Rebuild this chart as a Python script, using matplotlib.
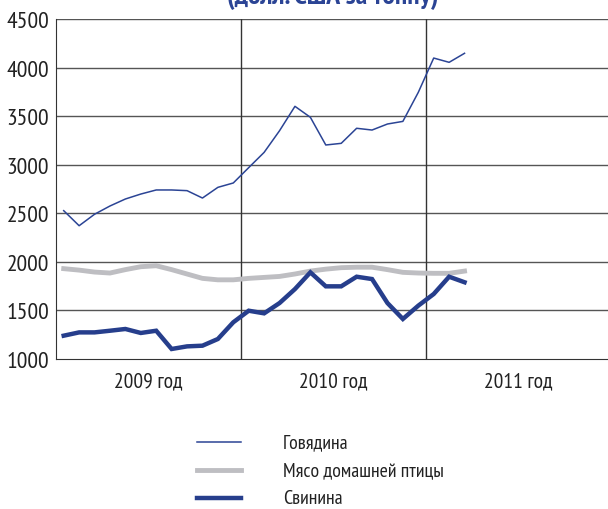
import matplotlib
matplotlib.use("Agg")
import matplotlib.pyplot as plt
import numpy as np

# Data (USD per tonne), monthly Jan 2009 - Mar 2011
beef = [2527, 2372, 2490, 2575, 2647, 2698, 2740, 2740, 2733, 2657, 2767, 2812,
        2970, 3127, 3350, 3601, 3488, 3203, 3220, 3375, 3357, 3419, 3446, 3745,
        4098, 4054, 4147]
poultry = [1930, 1915, 1895, 1885, 1920, 1950, 1960, 1920, 1875, 1830, 1815, 1815,
           1830, 1840, 1850, 1875, 1905, 1925, 1940, 1945, 1945, 1920, 1892, 1885,
           1882, 1882, 1905]
pork = [1240, 1274, 1274, 1291, 1309, 1268, 1291, 1103, 1130, 1137, 1206, 1378,
        1497, 1470, 1576, 1720, 1892, 1748, 1748, 1847, 1823, 1576, 1412, 1549,
        1669, 1847, 1790]
years = ["2009 год", "2010 год", "2011 год"]
series_names = ["Говядина", "Мясо домашней птицы", "Свинина"]
yticks = [1000, 1500, 2000, 2500, 3000, 3500, 4000, 4500]
title = "(долл. США за тонну)"

plt.rcParams['font.family'] = ["PT Sans Narrow", "Roboto Condensed", "DejaVu Sans"]

W, H = 608, 510
fig = plt.figure(figsize=(W / 100, H / 100), dpi=100)
left, right, top, bottom = 56, 608, 20, 360
ax = fig.add_axes([left / W, 1 - bottom / H, (right - left) / W, (bottom - top) / H])

x = np.arange(len(beef)) + 0.5
blue = "#2B4495"
ax.plot(x, beef, color=blue, lw=1.1, zorder=3)
ax.plot(x, poultry, color="#BEBEC2", lw=3.5, zorder=3, solid_joinstyle='miter')
ax.plot(x, pork, color="#263E8C", lw=3.2, zorder=4, solid_joinstyle='miter')

ax.set_ylim(1000, 4500)
ax.set_xlim(0, (right - left) / 185 * 12)
ax.set_yticks(yticks)
ax.set_yticklabels([str(v) for v in yticks], fontsize=17, color="#222222")
ax.set_xticks([])
for v in yticks[1:]:
    ax.axhline(v, color="#555555", lw=1.0, zorder=1)
for v in [12, 24]:
    ax.axvline(v, color="#333333", lw=1.0, zorder=1)
for s in ["right", "top"]:
    ax.spines[s].set_visible(False)
ax.spines["left"].set_color("#333333")
ax.spines["bottom"].set_color("#333333")
ax.tick_params(axis='y', length=0, pad=5)

for i, yl in enumerate(years):
    ax.text(i * 12 + 6, -0.065, yl, transform=ax.get_xaxis_transform(),
            ha='center', va='center', fontsize=15.5, color="#222222")

# Title (partially cut off at top)
fig.text(333 / W, 1 - 4 / H, title, ha='center', va='baseline', fontsize=20,
         fontweight='bold', color=blue)

# Legend
leg_y = [443, 471, 499]
styles = [dict(color=blue, lw=1.1), dict(color="#BEBEC2", lw=3.5), dict(color="#263E8C", lw=3.2)]
for yy, name, st in zip(leg_y, series_names, styles):
    fig.add_artist(plt.Line2D([197 / W, 241 / W], [1 - yy / H, 1 - yy / H], **st))
    fig.text(283 / W, 1 - yy / H, name, ha='left', va='center', fontsize=14.3, color="#222222")

fig.savefig("out.png", dpi=100)
